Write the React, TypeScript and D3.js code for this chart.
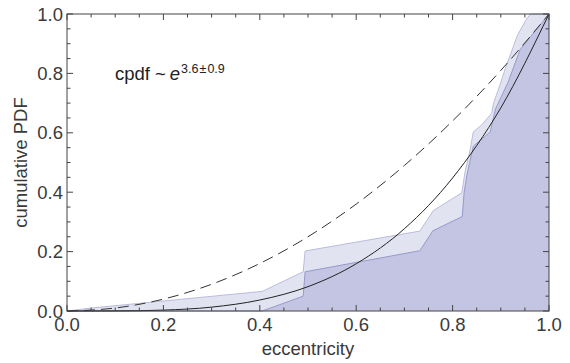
import { useEffect, useRef } from 'react';
import * as d3 from 'd3';

// upper edge of the light band (x, y)
const upperX = [0, 0.05, 0.405, 0.49, 0.494, 0.732, 0.76, 0.819, 0.826, 0.836, 0.843, 0.86, 0.881, 0.885, 0.898, 0.91, 0.935, 0.954, 0.962, 1];
const upperY = [0, 0.01, 0.066, 0.132, 0.202, 0.269, 0.338, 0.398, 0.47, 0.54, 0.603, 0.626, 0.666, 0.7, 0.76, 0.82, 0.93, 0.985, 1, 1];

// lower edge (top of the dark fill)
const lowerX = [0, 0.405, 0.49, 0.494, 0.732, 0.759, 0.82, 0.824, 0.83, 0.843, 0.878, 0.889, 0.915, 0.94, 1];
const lowerY = [0, 0, 0.05, 0.132, 0.203, 0.27, 0.318, 0.4, 0.46, 0.555, 0.603, 0.68, 0.77, 0.88, 1];

// model curves
const curveX = [0, 0.1, 0.2, 0.3, 0.4, 0.5, 0.6, 0.7, 0.8, 0.9, 1];
const solidY = [0, 0.0003, 0.003, 0.013, 0.037, 0.082, 0.159, 0.277, 0.448, 0.684, 1];
const dashedY = [0, 0.01, 0.04, 0.09, 0.16, 0.25, 0.36, 0.49, 0.64, 0.81, 1];

const majorTicks = [0, 0.2, 0.4, 0.6, 0.8, 1];
const tickLabels = ['0.0', '0.2', '0.4', '0.6', '0.8', '1.0'];

const W = 570;
const H = 363;
const FONT = '"Liberation Sans", Arial, Helvetica, sans-serif';

export default function App() {
  const svgRef = useRef<SVGSVGElement>(null);

  useEffect(() => {
    if (!svgRef.current) return;
    const svg = d3.select(svgRef.current);
    svg.selectAll('*').remove();

    const margin = { top: 14, right: 21, bottom: 52, left: 67 };
    const x = d3.scaleLinear().domain([0, 1]).range([margin.left, W - margin.right]);
    const y = d3.scaleLinear().domain([0, 1]).range([H - margin.bottom, margin.top]);

    const upper = upperX.map((v, i) => [v, upperY[i]] as [number, number]);
    const lower = lowerX.map((v, i) => [v, lowerY[i]] as [number, number]);

    const area = d3.area<[number, number]>()
      .x(d => x(d[0]))
      .y0(y(0))
      .y1(d => y(d[1]));
    const line = d3.line<[number, number]>()
      .x(d => x(d[0]))
      .y(d => y(d[1]));

    svg.append('path').attr('d', area(upper)).attr('fill', '#e2e3f1');
    svg.append('path').attr('d', area(lower)).attr('fill', '#c4c5e2');
    svg.append('path').attr('d', line(upper)).attr('fill', 'none')
      .attr('stroke', '#b4b6da').attr('stroke-width', 0.9);
    svg.append('path').attr('d', line(lower)).attr('fill', 'none')
      .attr('stroke', '#8f93c6').attr('stroke-width', 0.9);

    const smooth = d3.line<[number, number]>()
      .x(d => x(d[0]))
      .y(d => y(d[1]))
      .curve(d3.curveMonotoneX);

    svg.append('path')
      .attr('d', smooth(curveX.map((v, i) => [v, dashedY[i]] as [number, number])))
      .attr('fill', 'none').attr('stroke', '#333').attr('stroke-width', 1)
      .attr('stroke-dasharray', '11,6');
    svg.append('path')
      .attr('d', smooth(curveX.map((v, i) => [v, solidY[i]] as [number, number])))
      .attr('fill', 'none').attr('stroke', '#222').attr('stroke-width', 1);

    // frame
    const x0 = x(0), x1 = x(1), y0 = y(0), y1 = y(1);
    svg.append('rect')
      .attr('x', x0).attr('y', y1).attr('width', x1 - x0).attr('height', y0 - y1)
      .attr('fill', 'none').attr('stroke', '#444').attr('stroke-width', 1);

    // ticks on all four sides, inward
    const minor = d3.range(0, 1.0001, 0.05);
    const tg = svg.append('g').attr('stroke', '#444').attr('stroke-width', 1);
    minor.forEach(t => {
      const isMajor = majorTicks.some(m => Math.abs(m - t) < 1e-6);
      const len = isMajor ? 6 : 3.5;
      tg.append('line').attr('x1', x(t)).attr('x2', x(t)).attr('y1', y0).attr('y2', y0 - len);
      tg.append('line').attr('x1', x(t)).attr('x2', x(t)).attr('y1', y1).attr('y2', y1 + len);
      tg.append('line').attr('x1', x0).attr('x2', x0 + len).attr('y1', y(t)).attr('y2', y(t));
      tg.append('line').attr('x1', x1).attr('x2', x1 - len).attr('y1', y(t)).attr('y2', y(t));
    });

    // tick labels
    majorTicks.forEach((t, i) => {
      svg.append('text')
        .attr('x', x(t)).attr('y', y0 + 20)
        .attr('text-anchor', 'middle')
        .attr('font-family', FONT).attr('font-size', 18.5).attr('fill', '#3a3a3a')
        .text(tickLabels[i]);
      svg.append('text')
        .attr('x', x0 - 4).attr('y', y(t) + 6.5)
        .attr('text-anchor', 'end')
        .attr('font-family', FONT).attr('font-size', 18.5).attr('fill', '#3a3a3a')
        .text(tickLabels[i]);
    });

    // axis titles
    svg.append('text')
      .attr('x', x(0.5)).attr('y', 355)
      .attr('text-anchor', 'middle')
      .attr('font-family', FONT).attr('font-size', 18.5).attr('fill', '#3a3a3a')
      .text('eccentricity');
    svg.append('text')
      .attr('transform', `translate(27, ${y(0.5)}) rotate(-90)`)
      .attr('text-anchor', 'middle')
      .attr('font-family', FONT).attr('font-size', 18.5).attr('fill', '#3a3a3a')
      .text('cumulative PDF');

    // annotation
    const note = svg.append('text')
      .attr('x', 115).attr('y', 80)
      .attr('font-family', FONT).attr('font-size', 18.5).attr('fill', '#222');
    note.append('tspan').text('cpdf');
    note.append('tspan').attr('dx', 5).text('~');
    note.append('tspan').attr('dx', 4).attr('font-style', 'italic').text('e');
    note.append('tspan').attr('dy', -7).attr('dx', 1).attr('font-size', 12.5).text('3.6\u200a±\u200a0.9');
  }, []);

  return (
    <div style={{ position: 'absolute', left: 0, top: 0 }}>
      <svg ref={svgRef} width={W} height={H} style={{ display: 'block', background: 'white' }}></svg>
    </div>
  );
}
